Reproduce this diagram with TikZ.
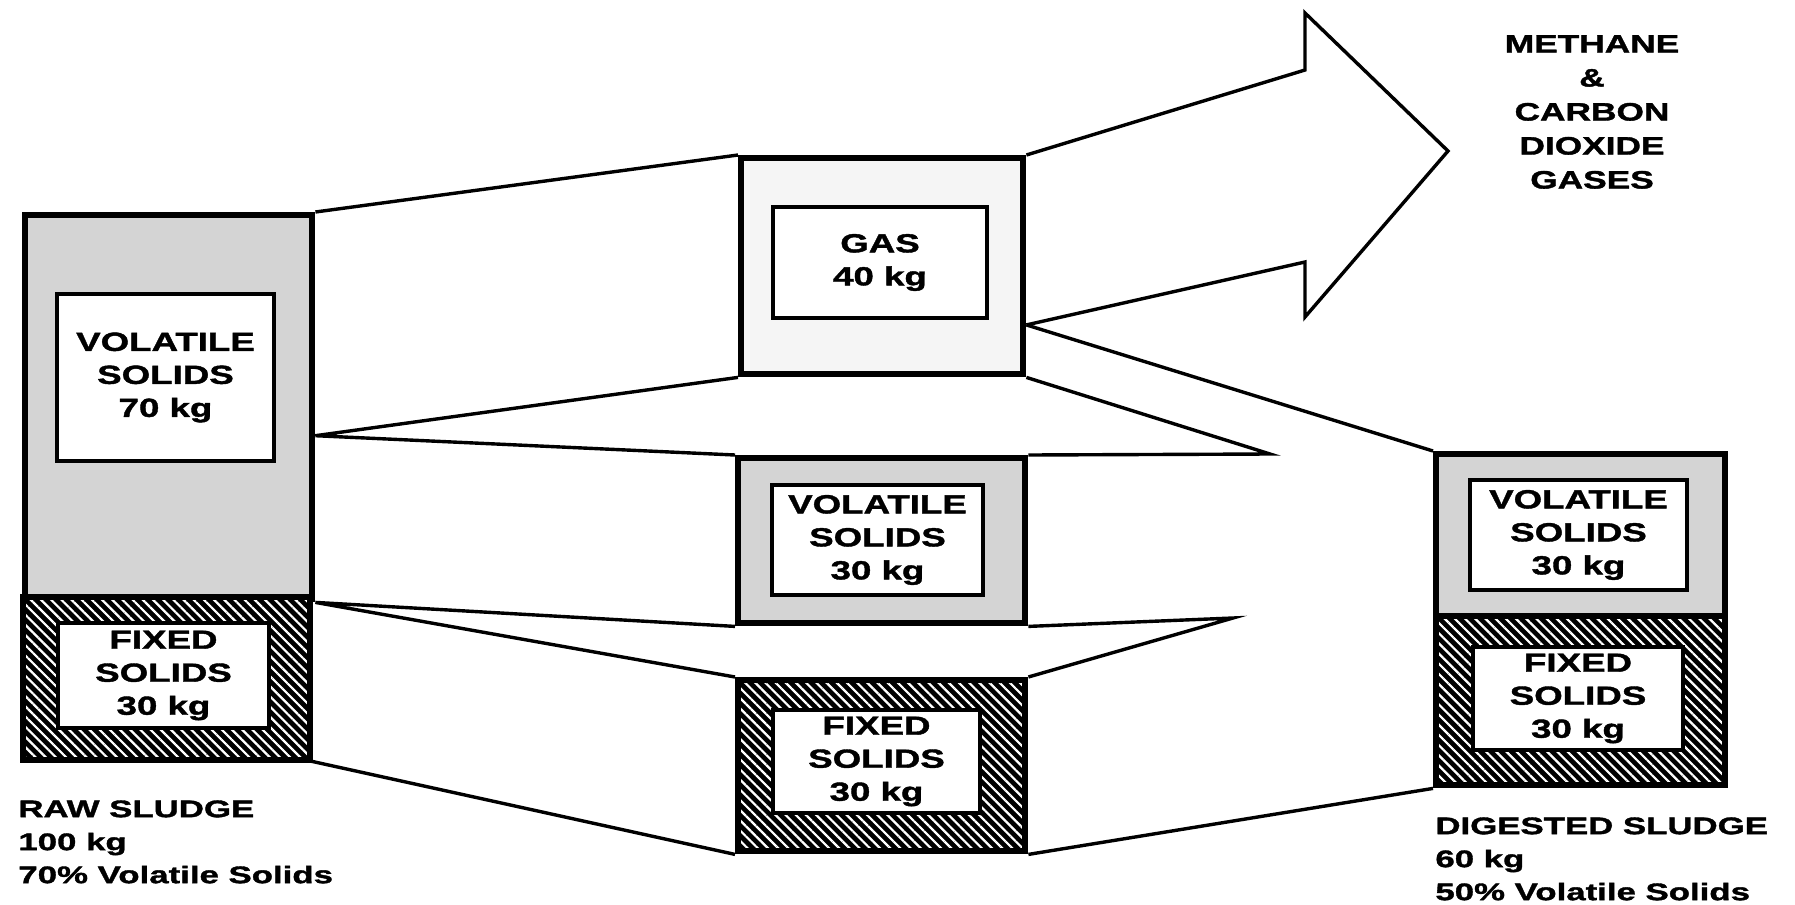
\documentclass[tikz,border=0pt]{standalone}
\usepackage{fontspec}
\setmainfont{Liberation Sans}
\newfontfamily\boxfont[FakeStretch=1.4,FakeBold=1.5]{Liberation Sans}
\newfontfamily\labfont[FakeStretch=1.45,FakeBold=1.5]{Liberation Sans}
\usetikzlibrary{patterns.meta,calc}
\begin{document}
\begin{tikzpicture}[x=0.5pt,y=-0.5pt,
  outer/.style={draw, line width=3.2pt, inner sep=0pt, anchor=north west},
  vsreg/.style={outer, fill=black!17},
  gasreg/.style={outer, fill=black!4},
  fsreg/.style={outer, preaction={fill=black}, pattern={Lines[angle=-45,distance=3.6pt,line width=1.1pt]}, pattern color=white},
  inbox/.style={draw, line width=2pt, fill=white, inner sep=0pt, align=center, font=\boxfont\bfseries\fontsize{13.1}{16.5}\selectfont},
  conn/.style={line width=1.7pt, line join=miter},
  lab/.style={anchor=north west, inner sep=0pt, align=left, font=\labfont\bfseries\fontsize{12}{16.5}\selectfont},
  gaslab/.style={inner sep=0pt, align=center, font=\boxfont\bfseries\fontsize{12.6}{17}\selectfont}
]
\useasboundingbox (0,0) rectangle (1795,905);
\fill[white] (0,0) rectangle (1795,905);

% left column (raw sludge)
\node[vsreg, minimum width=143.5pt, minimum height=192pt] (lvs) at (22,212) {};
\node[fsreg, minimum width=143.5pt, minimum height=81.5pt] (lfs) at (22,596) {};
\node[inbox, minimum width=108.5pt, minimum height=83.5pt] (lvsin) at (165.5,377.5) {VOLATILE\\SOLIDS\\70 kg};
\node[inbox, minimum width=105.5pt, minimum height=52.5pt] (lfsin) at (163.5,675.5) {FIXED\\SOLIDS\\30 kg};

% middle column
\node[gasreg, minimum width=141pt, minimum height=108pt] (gasbox) at (738,155) {};
\node[inbox, minimum width=107pt, minimum height=55.5pt] (gasin) at (880,262.5) {GAS\\40 kg};
\node[vsreg, minimum width=143.5pt, minimum height=82.5pt] (mvs) at (735,455) {};
\node[inbox, minimum width=105.5pt, minimum height=55pt] (mvsin) at (877.5,540) {VOLATILE\\SOLIDS\\30 kg};
\node[fsreg, minimum width=143.5pt, minimum height=85.5pt] (mfs) at (735,677) {};
\node[inbox, minimum width=103.5pt, minimum height=51.5pt] (mfsin) at (876.5,761.5) {FIXED\\SOLIDS\\30 kg};

% right column (digested sludge)
\node[vsreg, minimum width=144.5pt, minimum height=81pt] (rvs) at (1433,451) {};
\node[fsreg, minimum width=144.5pt, minimum height=84.5pt] (rfs) at (1433,613) {};
\node[inbox, minimum width=108.5pt, minimum height=55pt] (rvsin) at (1578.5,535) {VOLATILE\\SOLIDS\\30 kg};
\node[inbox, minimum width=105pt, minimum height=51.5pt] (rfsin) at (1578,698.5) {FIXED\\SOLIDS\\30 kg};

% helper points
\coordinate (lA) at ($(lvs.north east)!0.573!(lvs.south east)$);
\coordinate (g1) at ($(gasbox.north east)!0.764!(gasbox.south east)$);
\coordinate (w1) at (1270,454);
\coordinate (w2) at (1233,618);
\coordinate (a1) at (1305,70);
\coordinate (a2) at (1305,13);
\coordinate (tip) at (1448,151);
\coordinate (a3) at (1305,317);
\coordinate (a4) at (1305,262);

% connectors
\draw[conn] (lvs.north east) -- (gasbox.north west);
\draw[conn] (gasbox.south west) -- (lA) -- (mvs.north west);
\draw[conn] (mvs.north east) -- (w1) -- (gasbox.south east);
\draw[conn] (mvs.south west) -- (lvs.south east) -- (mfs.north west);
\draw[conn] (mvs.south east) -- (w2) -- (mfs.north east);
\draw[conn] (lfs.south east) -- (mfs.south west);
\draw[conn] (mfs.south east) -- (rfs.south west);
\draw[conn] (g1) -- (rvs.north west);
\draw[conn] (gasbox.north east) -- (a1) -- (a2) -- (tip) -- (a3) -- (a4) -- (g1);

% labels
\node[gaslab] (meth) at (1592,112) {METHANE\\\&\\CARBON\\DIOXIDE\\GASES};
\node[lab] (raw) at (18,800) {RAW SLUDGE\\100 kg\\70\% Volatile Solids};
\node[lab] (dig) at (1435,817) {DIGESTED SLUDGE\\60 kg\\50\% Volatile Solids};
\end{tikzpicture}
\end{document}
